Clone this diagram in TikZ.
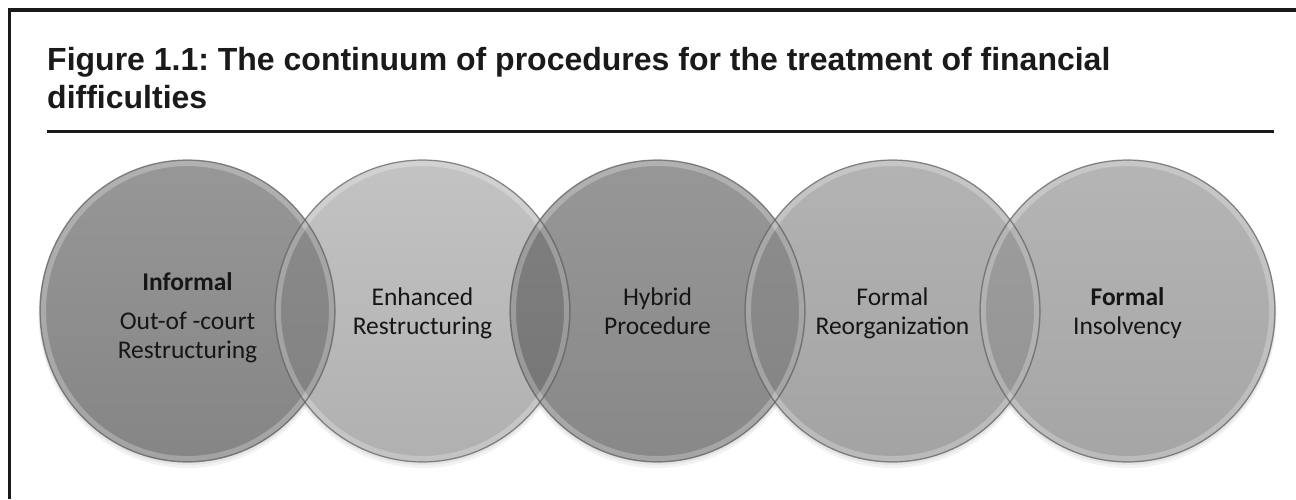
\documentclass[tikz,border=0pt]{standalone}
\usepackage{fontspec}
\setmainfont{Liberation Sans}
\newfontfamily\labelfont{Carlito}
\frenchspacing
\definecolor{ink}{HTML}{1A1A1A}
\definecolor{labeltext}{HTML}{161616}
% disc fills (top / bottom of the vertical shading)
\definecolor{aTop}{HTML}{979797}\definecolor{aBot}{HTML}{858585}
\definecolor{bTop}{HTML}{C3C3C3}\definecolor{bBot}{HTML}{B0B0B0}
\definecolor{cTop}{HTML}{979797}\definecolor{cBot}{HTML}{888888}
\definecolor{dTop}{HTML}{B3B3B3}\definecolor{dBot}{HTML}{A3A3A3}
\definecolor{eTop}{HTML}{B5B5B5}\definecolor{eBot}{HTML}{A5A5A5}
% overlap lenses
\definecolor{abTop}{HTML}{8C8C8C}\definecolor{abBot}{HTML}{808080}
\definecolor{bcTop}{HTML}{808080}\definecolor{bcBot}{HTML}{757575}
\definecolor{cdTop}{HTML}{8E8E8E}\definecolor{cdBot}{HTML}{838383}
\definecolor{deTop}{HTML}{9E9E9E}\definecolor{deBot}{HTML}{939393}
\begin{document}
\begin{tikzpicture}[x=1pt,y=-1pt]
\tikzset{
  disc/.style={x radius=147.5pt, y radius=151pt},
  rim/.style={draw=black!60, draw opacity=0.75, line width=1.2pt},
  lbl/.style={font=\labelfont\fontsize{25.5}{29}\selectfont, text=labeltext,
              align=center, inner sep=0pt},
  titletext/.style={font=\bfseries\fontsize{32}{38}\selectfont, text=ink,
                    anchor=base west, inner sep=0pt},
}
\useasboundingbox (0,0) rectangle (1296,499);
\fill[white] (0,0) rectangle (1296,499);

% open frame: left and top edges
\draw[line width=3.5pt, ink, line join=miter] (9.5,499) -- (9.5,10) -- (1296,10);

% heading and rule
\node[titletext] (title1) at (47,70)
  {Figure 1.1: The continuum of procedures for the treatment of financial};
\node[titletext] (title2) at (47,108) {difficulties};
\draw[line width=3.5pt, ink] (47,131.5) -- (1274,131.5);

% disc centres
\coordinate (p1) at (187.5,311);
\coordinate (p2) at (422.5,311);
\coordinate (p3) at (657.5,311);
\coordinate (p4) at (892.5,311);
\coordinate (p5) at (1127.5,311);

% soft shadows
\foreach \p in {p1,p2,p3,p4,p5}{
  \fill[black, opacity=0.05] ([yshift=-4pt]\p) ellipse [x radius=149pt, y radius=153pt];
  \fill[black, opacity=0.05] ([yshift=-2pt]\p) ellipse [x radius=148.5pt, y radius=152pt];
}

% discs
\shade[top color=aTop, bottom color=aBot] (p1) ellipse [disc];
\shade[top color=bTop, bottom color=bBot] (p2) ellipse [disc];
\shade[top color=cTop, bottom color=cBot] (p3) ellipse [disc];
\shade[top color=dTop, bottom color=dBot] (p4) ellipse [disc];
\shade[top color=eTop, bottom color=eBot] (p5) ellipse [disc];

% overlaps
\begin{scope}
  \clip (p1) ellipse [disc];
  \shade[top color=abTop, bottom color=abBot] (p2) ellipse [disc];
\end{scope}
\begin{scope}
  \clip (p2) ellipse [disc];
  \shade[top color=bcTop, bottom color=bcBot] (p3) ellipse [disc];
\end{scope}
\begin{scope}
  \clip (p3) ellipse [disc];
  \shade[top color=cdTop, bottom color=cdBot] (p4) ellipse [disc];
\end{scope}
\begin{scope}
  \clip (p4) ellipse [disc];
  \shade[top color=deTop, bottom color=deBot] (p5) ellipse [disc];
\end{scope}

% light inner rim along each disc
\foreach \p in {p1,p2,p3,p4,p5}{
  \begin{scope}
    \clip (\p) ellipse [disc];
    \draw[white, opacity=0.25, line width=5pt] (\p) ellipse [x radius=144pt, y radius=147.5pt];
  \end{scope}
}

% outlines
\foreach \p in {p1,p2,p3,p4,p5}{
  \draw[rim] (\p) ellipse [disc];
}

% labels
\node[lbl] (t1) at (187.5,319)
  {\strut\textbf{Informal}\\[10pt]\strut Out-of -court\\\strut Restructuring};
\node[lbl] (t2) at (422.5,314.2) {\strut Enhanced\\\strut Restructuring};
\node[lbl] (t3) at (657.5,314.2) {\strut Hybrid\\\strut Procedure};
\node[lbl] (t4) at (892.5,314.2) {\strut Formal\\\strut Reorganization};
\node[lbl] (t5) at (1127.5,314.2) {\strut\textbf{Formal}\\\strut Insolvency};
\end{tikzpicture}
\end{document}
